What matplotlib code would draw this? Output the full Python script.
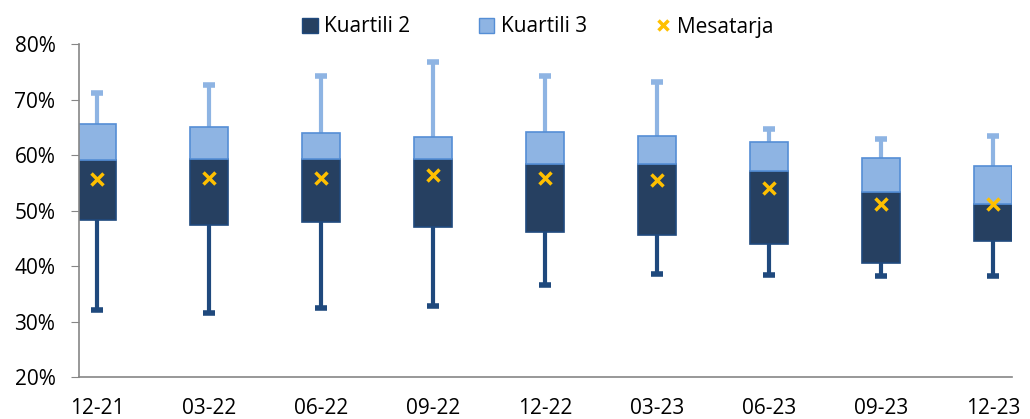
import numpy as np
import matplotlib.pyplot as plt
from matplotlib.ticker import FuncFormatter
from matplotlib.patches import Patch
from matplotlib.lines import Line2D

# te dhenat (lexuar nga grafiku)
periods = ['12-21', '03-22', '06-22', '09-22', '12-22', '03-23', '06-23', '09-23', '12-23']
min_vals = [32.1, 31.6, 32.5, 32.8, 36.5, 38.5, 38.4, 38.2, 38.2]
q1_vals = [48.3, 47.4, 48.0, 47.1, 46.2, 45.6, 43.9, 40.6, 44.5]
median_vals = [59.1, 59.3, 59.3, 59.3, 58.4, 58.4, 57.1, 53.4, 51.1]
q3_vals = [65.6, 65.1, 64.0, 63.3, 64.2, 63.5, 62.4, 59.4, 58.1]
max_vals = [71.1, 72.6, 74.3, 76.8, 74.2, 73.1, 64.7, 62.9, 63.5]
mean_vals = [55.7, 55.9, 55.9, 56.4, 55.9, 55.5, 54.0, 51.2, 51.1]

dark = '#264061'
dark_edge = '#1F497D'
light = '#8EB4E3'
light_edge = '#558ED5'
gold = '#FFC000'

plt.rcParams['font.family'] = ['Open Sans', 'DejaVu Sans']

fig = plt.figure(figsize=(10.30, 4.19), dpi=100)
ax = fig.add_axes([79 / 1030, 1 - 377 / 419, (1012 - 79) / 1030, (377 - 44) / 419])

x = np.arange(len(periods))
mn = np.array(min_vals)
q1 = np.array(q1_vals)
med = np.array(median_vals)
q3 = np.array(q3_vals)
mx = np.array(max_vals)

# mustaqet
ax.vlines(x, mn, q1, color=dark_edge, linewidth=3, zorder=1)
ax.hlines(mn, x - 0.05, x + 0.05, color=dark_edge, linewidth=4, zorder=1)
ax.vlines(x, q3, mx, color=light, linewidth=3, zorder=1)
ax.hlines(mx, x - 0.05, x + 0.05, color=light, linewidth=4, zorder=1)

w = 0.335
ax.bar(x, med - q1, bottom=q1, width=w, color=dark, edgecolor=dark_edge,
       linewidth=1.2, zorder=2)
ax.bar(x, q3 - med, bottom=med, width=w, color=light, edgecolor=light_edge,
       linewidth=1.2, zorder=2)
ax.plot(x, mean_vals, linestyle='none', marker='x', color=gold, markersize=8,
        markeredgewidth=2.5, zorder=3)

ax.set_ylim(20, 80)
ax.set_yticks(np.arange(20, 81, 10))
ax.yaxis.set_major_formatter(FuncFormatter(lambda v, p: f'{v:.0f}%'))
ax.set_xlim(-0.16, 8.17)
ax.set_xticks(x)
ax.set_xticklabels(periods)

for s in ['top', 'right']:
    ax.spines[s].set_visible(False)
for s in ['left', 'bottom']:
    ax.spines[s].set_color('#868686')
    ax.spines[s].set_linewidth(1.2)
ax.tick_params(axis='y', length=6, color='#868686', labelsize=15, pad=11)
ax.tick_params(axis='x', length=0, labelsize=15, pad=15)

handles = [
    Patch(facecolor=dark, edgecolor=dark_edge, label='Kuartili 2'),
    Patch(facecolor=light, edgecolor=light_edge, label='Kuartili 3'),
    Line2D([], [], linestyle='none', marker='x', color=gold, markersize=7,
           markeredgewidth=2.5, label='Mesatarja'),
]
fig.legend(handles=handles, loc='center', bbox_to_anchor=(538 / 1030, 1 - 27 / 419),
           ncol=3, frameon=False, fontsize=15, handlelength=0.75, handleheight=0.75,
           handletextpad=0.3, columnspacing=3.3, borderpad=0)

fig.savefig('out.png', dpi=100)
